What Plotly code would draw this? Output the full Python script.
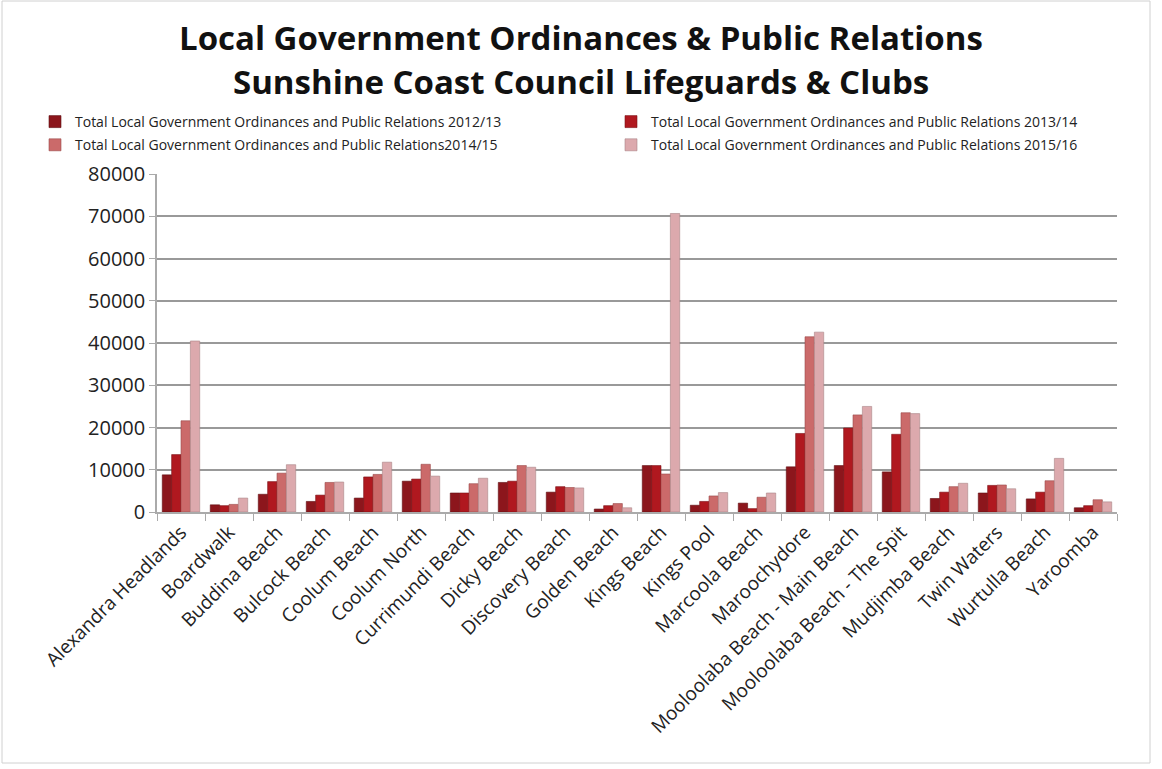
import plotly.graph_objects as go

categories = ["Alexandra Headlands", "Boardwalk", "Buddina Beach", "Bulcock Beach", "Coolum Beach",
              "Coolum North", "Currimundi Beach", "Dicky Beach", "Discovery Beach", "Golden Beach",
              "Kings Beach", "Kings Pool", "Marcoola Beach", "Maroochydore", "Mooloolaba Beach - Main Beach",
              "Mooloolaba Beach - The Spit", "Mudjimba Beach", "Twin Waters", "Wurtulla Beach", "Yaroomba"]

series_names = ["Total Local Government Ordinances and Public Relations 2012/13",
                "Total Local Government Ordinances and Public Relations 2013/14",
                "Total Local Government Ordinances and Public Relations2014/15",
                "Total Local Government Ordinances and Public Relations 2015/16"]

v_2012 = [8800, 1700, 4200, 2500, 3300, 7300, 4500, 7000, 4700, 700, 11000, 1600, 2100, 10700, 11000, 9500, 3200, 4500, 3100, 1000]
v_2013 = [13600, 1500, 7200, 4000, 8300, 7800, 4500, 7300, 6000, 1500, 11000, 2500, 800, 18600, 19900, 18400, 4700, 6300, 4700, 1500]
v_2014 = [21600, 1800, 9200, 7000, 8900, 11300, 6700, 11000, 5800, 2000, 9000, 3800, 3500, 41500, 23000, 23500, 6000, 6400, 7400, 2900]
v_2015 = [40500, 3300, 11200, 7100, 11800, 8500, 8000, 10600, 5700, 1000, 70700, 4600, 4500, 42600, 25000, 23300, 6800, 5500, 12700, 2400]

colors = ["#8c161c", "#b0181f", "#cb6a6a", "#dca9ad"]
line_colors = ["#5e0d10", "#7a1015", "#9a4a4a", "#a98487"]
legend_ids = ["legend", "legend2", "legend", "legend2"]

W, H = 1162, 769
L, R, T, B = 157, 45, 174, 257
PW, PH = W - L - R, H - T - B


def px(x):
    return (x - L) / PW


def py(y):
    return (H - B - y) / PH


fig = go.Figure()
for i, (name, vals, c, lc, lg) in enumerate(zip(series_names, [v_2012, v_2013, v_2014, v_2015], colors, line_colors, legend_ids)):
    fig.add_trace(go.Bar(x=categories, y=vals, name=name, legend=lg, legendgroup="g%d" % i,
                         marker=dict(color=c, line=dict(color=lc, width=0.6))))

FONT = "Open Sans, Lato, sans-serif"
leg_common = dict(orientation="v", xref="container", yref="container", xanchor="left", yanchor="top",
                  font=dict(size=14, color="#222", family=FONT), itemwidth=30, tracegroupgap=2,
                  bgcolor="rgba(0,0,0,0)")
fig.update_layout(
    width=W, height=H,
    paper_bgcolor="white", plot_bgcolor="white",
    margin=dict(l=L, r=R, t=T, b=B, autoexpand=False),
    barmode="group", bargap=0.22, bargroupgap=0,
    font=dict(family=FONT, color="#222"),
    legend=dict(x=35 / W, y=1 - 106 / H, **leg_common),
    legend2=dict(x=611 / W, y=1 - 106 / H, **leg_common),
    showlegend=True,
)
fig.add_annotation(text="<b>Local Government Ordinances & Public Relations</b>", xref="paper", yref="paper",
                   x=px(581), y=py(38), xanchor="center", yanchor="middle", showarrow=False,
                   font=dict(size=33, color="#111", family=FONT))
fig.add_annotation(text="<b>Sunshine Coast Council Lifeguards & Clubs</b>", xref="paper", yref="paper",
                   x=px(581), y=py(82), xanchor="center", yanchor="middle", showarrow=False,
                   font=dict(size=33, color="#111", family=FONT))
fig.update_xaxes(tickangle=-45, tickfont=dict(size=19, color="#222"), ticks="outside", tickson="boundaries",
                 ticklen=7, tickcolor="#aaa", showline=True, linecolor="#aaa", linewidth=1.5)
fig.update_yaxes(range=[0, 80050], tick0=0, dtick=10000, tickformat="d", tickfont=dict(size=20, color="#222"),
                 showgrid=True, gridcolor="#999", gridwidth=2, showline=True, linecolor="#aaa", linewidth=1.5,
                 ticks="outside", ticklen=6, tickcolor="#aaa", zeroline=False)
fig.add_shape(type="rect", xref="paper", yref="paper", x0=px(2), x1=px(1150), y0=py(763), y1=py(1),
              line=dict(color="#d0d0d0", width=1))
fig.write_html("out.html", config={"displayModeBar": False},
               post_script="document.body.style.margin='0';")
